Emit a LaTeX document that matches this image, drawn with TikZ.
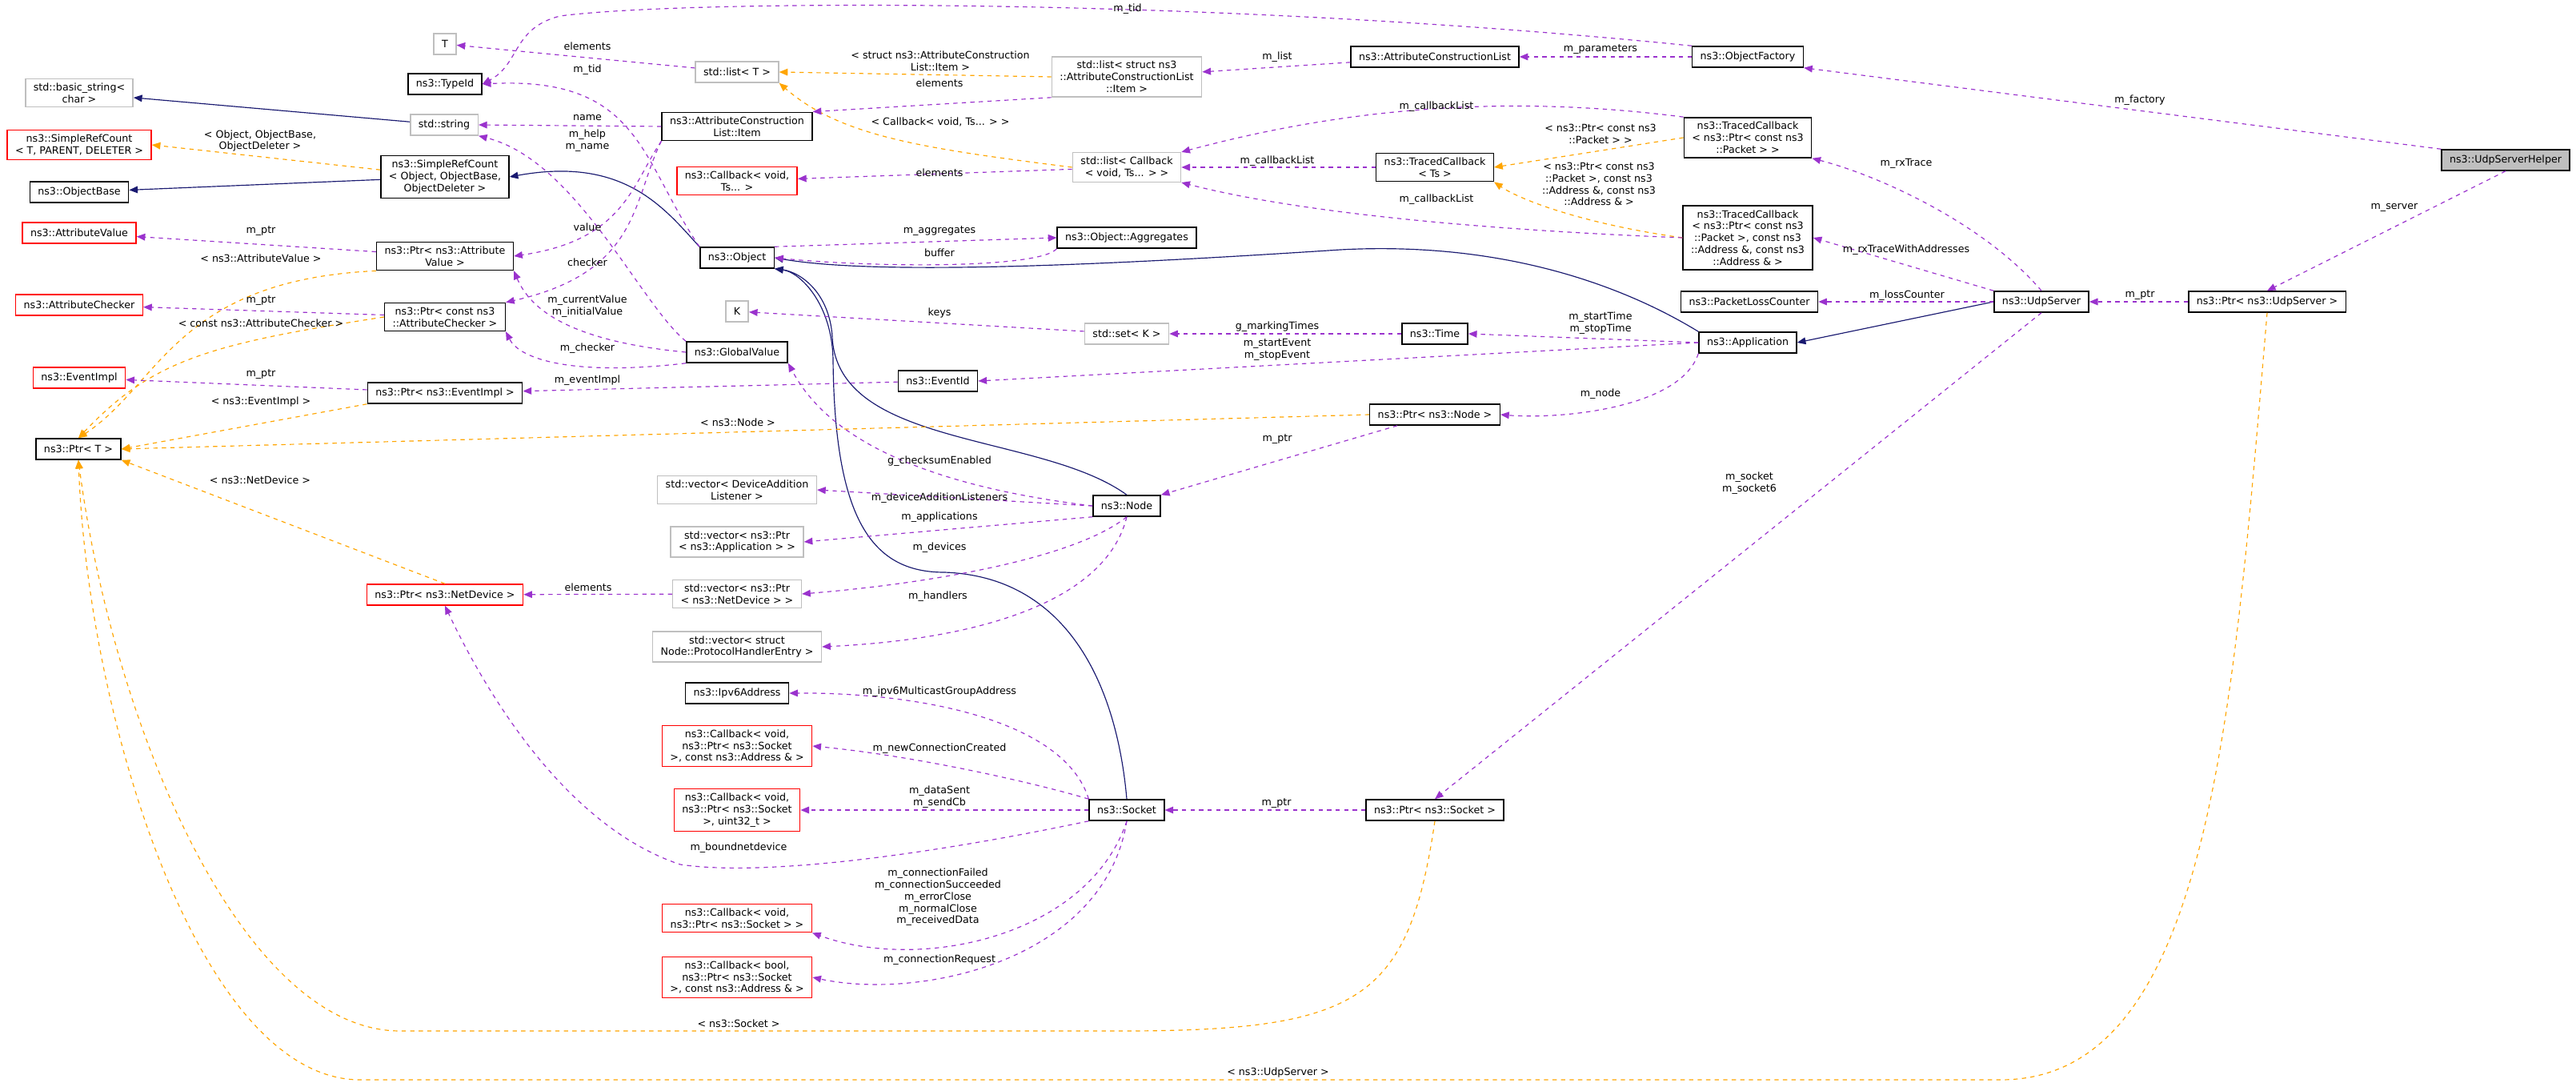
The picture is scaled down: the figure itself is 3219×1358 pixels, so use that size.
\documentclass[tikz,border=0pt]{standalone}
\usepackage{fontspec}
\setmainfont{DejaVu Sans}
\usepackage{tikz}
\usetikzlibrary{arrows.meta}
\definecolor{memcol}{HTML}{9A32CD}
\definecolor{tplcol}{HTML}{FFA500}
\definecolor{inhcol}{HTML}{191970}
\definecolor{extcol}{HTML}{BFBFBF}
\newcommand{\cls}[5]{\node[#1] (#2) at (#3,#4) {#5};}
\newcommand{\lbl}[4]{\node[lbltext] (#1) at (#2,#3) {#4};}
\tikzset{
  box/.style={draw=black, line width=0.45pt, fill=white, align=center, inner xsep=3pt, inner ysep=1.6pt, minimum height=7.8pt, font=\fontsize{3.8}{4.45}\selectfont},
  extbox/.style={box, draw=extcol},
  redbox/.style={box, draw=red},
  hlbox/.style={box, fill=extcol},
  lbltext/.style={align=center, inner sep=0pt, font=\fontsize{3.8}{4.45}\selectfont},
  mem/.style={draw=memcol, line width=0.35pt, dash pattern=on 1.6pt off 1.6pt, -{Triangle[length=3.2pt,width=2.6pt]}, color=memcol},
  tpl/.style={draw=tplcol, line width=0.35pt, dash pattern=on 1.6pt off 1.6pt, -{Triangle[length=3.2pt,width=2.6pt]}, color=tplcol},
  inh/.style={draw=inhcol, line width=0.35pt, -{Triangle[length=3.2pt,width=2.6pt]}, color=inhcol}
}
\begin{document}
\begin{tikzpicture}[x=0.3pt, y=-0.3pt]
        \useasboundingbox (0,0) rectangle (3219,1358);
        % column 1
        \cls{extbox}{bstr}{99}{116}{std::basic\_string\textless\\char \textgreater}
        \cls{redbox}{srct}{99}{181}{ns3::SimpleRefCount\\\textless{} T, PARENT, DELETER \textgreater}
        \cls{box}{obase}{99}{240}{ns3::ObjectBase}
        \cls{redbox}{aval}{99}{291}{ns3::AttributeValue}
        \cls{redbox}{achk}{99}{381}{ns3::AttributeChecker}
        \cls{redbox}{evimpl}{99}{472}{ns3::EventImpl}
        \cls{box}{ptrt}{98}{561}{ns3::Ptr\textless{} T \textgreater}
        % column 2
        \cls{extbox}{tt}{556}{55}{T}
        \cls{box}{tid}{556}{105}{ns3::TypeId}
        \cls{extbox}{str}{555}{156}{std::string}
        \cls{box}{srco}{556}{221}{ns3::SimpleRefCount\\\textless{} Object, ObjectBase,\\ObjectDeleter \textgreater}
        \cls{box}{pav}{556}{320}{ns3::Ptr\textless{} ns3::Attribute\\Value \textgreater}
        \cls{box}{pac}{556}{396}{ns3::Ptr\textless{} const ns3\\::AttributeChecker \textgreater}
        \cls{box}{pev}{556}{491}{ns3::Ptr\textless{} ns3::EventImpl \textgreater}
        \cls{redbox}{pnd}{556}{743}{ns3::Ptr\textless{} ns3::NetDevice \textgreater}
        % column 3
        \cls{extbox}{lt}{921}{90}{std::list\textless{} T \textgreater}
        \cls{box}{item}{921}{158}{ns3::AttributeConstruction\\List::Item}
        \cls{redbox}{cbv}{921}{226}{ns3::Callback\textless{} void,\\Ts... \textgreater}
        \cls{box}{obj}{921}{322}{ns3::Object}
        \cls{extbox}{kk}{921}{389}{K}
        \cls{box}{gv}{921}{440}{ns3::GlobalValue}
        \cls{extbox}{vdal}{921}{612}{std::vector\textless{} DeviceAddition\\Listener \textgreater}
        \cls{extbox}{vapp}{921}{677}{std::vector\textless{} ns3::Ptr\\\textless{} ns3::Application \textgreater{} \textgreater}
        \cls{extbox}{vnd}{921}{742}{std::vector\textless{} ns3::Ptr\\\textless{} ns3::NetDevice \textgreater{} \textgreater}
        \cls{extbox}{vphe}{921}{808}{std::vector\textless{} struct\\Node::ProtocolHandlerEntry \textgreater}
        \cls{box}{ipv6}{921}{866}{ns3::Ipv6Address}
        \cls{redbox}{cbnew}{921}{932}{ns3::Callback\textless{} void,\\ns3::Ptr\textless{} ns3::Socket\\\textgreater, const ns3::Address \& \textgreater}
        \cls{redbox}{cbsent}{921}{1012}{ns3::Callback\textless{} void,\\ns3::Ptr\textless{} ns3::Socket\\\textgreater, uint32\_t \textgreater}
        \cls{redbox}{cbsock}{921}{1147}{ns3::Callback\textless{} void,\\ns3::Ptr\textless{} ns3::Socket \textgreater{} \textgreater}
        \cls{redbox}{cbreq}{921}{1221}{ns3::Callback\textless{} bool,\\ns3::Ptr\textless{} ns3::Socket\\\textgreater, const ns3::Address \& \textgreater}
        \cls{box}{eid}{1172}{476}{ns3::EventId}
        % column 4
        \cls{extbox}{lsi}{1408}{96}{std::list\textless{} struct ns3\\::AttributeConstructionList\\::Item \textgreater}
        \cls{extbox}{lcb}{1408}{209}{std::list\textless{} Callback\\\textless{} void, Ts... \textgreater{} \textgreater}
        \cls{box}{aggr}{1408}{297}{ns3::Object::Aggregates}
        \cls{extbox}{setk}{1408}{417}{std::set\textless{} K \textgreater}
        \cls{box}{node}{1408}{632}{ns3::Node}
        \cls{box}{sock}{1408}{1012}{ns3::Socket}
        % column 5
        \cls{box}{acl}{1793}{71}{ns3::AttributeConstructionList}
        \cls{box}{tcts}{1793}{209}{ns3::TracedCallback\\\textless{} Ts \textgreater}
        \cls{box}{time}{1793}{417}{ns3::Time}
        \cls{box}{pnode}{1793}{518}{ns3::Ptr\textless{} ns3::Node \textgreater}
        \cls{box}{psock}{1793}{1012}{ns3::Ptr\textless{} ns3::Socket \textgreater}
        % column 6
        \cls{box}{ofac}{2184}{71}{ns3::ObjectFactory}
        \cls{box}{tcpk}{2184}{172}{ns3::TracedCallback\\\textless{} ns3::Ptr\textless{} const ns3\\::Packet \textgreater{} \textgreater}
        \cls{box}{tcad}{2184}{297}{ns3::TracedCallback\\\textless{} ns3::Ptr\textless{} const ns3\\::Packet \textgreater, const ns3\\::Address \&, const ns3\\::Address \& \textgreater}
        \cls{box}{plc}{2186}{377}{ns3::PacketLossCounter}
        \cls{box}{app}{2184}{428}{ns3::Application}
        \cls{box}{udps}{2551}{377}{ns3::UdpServer}
        \cls{box}{pudps}{2833}{377}{ns3::Ptr\textless{} ns3::UdpServer \textgreater}
        \cls{hlbox}{helper}{3131}{200}{ns3::UdpServerHelper}

        % inheritance
        \draw[inh] (str) -- (bstr);
        \draw[inh] (srco) -- (obase);
        \draw[inh] (obj.north west) .. controls (830,260) and (780,195) .. (srco.east);
        \draw[inh] (node.north) .. controls (1300,540) and (1045,560) .. (1040,420) .. controls (1036,365) and (1000,340) .. (obj.south east);
        \draw[inh] (sock.north) .. controls (1395,850) and (1330,720) .. (1180,715) .. controls (1090,715) and (1043,650) .. (1041,450) .. controls (1040,380) and (1000,340) .. (obj.south east);
        \draw[inh] (app.north west) .. controls (2050,370) and (1900,300) .. (1675,312) .. controls (1400,330) and (1100,345) .. (obj.east);
        \draw[inh] (udps.west) -- (app.east);

        % templates
        \draw[tpl] (srco) -- (srct.east);
        \draw[tpl] (pav.south west) .. controls (220,350) and (200,480) .. (ptrt.north);
        \draw[tpl] (pac.west) .. controls (260,430) and (190,450) .. (ptrt.north);
        \draw[tpl] (pev.south west) -- (ptrt.east);
        \draw[tpl] (pnode.west) -- (ptrt.east);
        \draw[tpl] (pnd.north) -- (ptrt.south east);
        \draw[tpl] (psock.south) .. controls (1760,1250) and (1700,1288) .. (1400,1288) -- (500,1288) .. controls (300,1288) and (140,900) .. (ptrt.south);
        \draw[tpl] (pudps.south) .. controls (2790,900) and (2760,1349) .. (2500,1349) -- (450,1349) .. controls (250,1349) and (110,900) .. (ptrt.south);
        \draw[tpl] (lsi.west) -- (lt.east);
        \draw[tpl] (lcb.west) .. controls (1150,185) and (1050,170) .. (lt.south east);
        \draw[tpl] (tcpk.west) -- (tcts.east);
        \draw[tpl] (tcad.west) .. controls (1980,280) and (1900,250) .. (tcts.south east);

        % members
        \draw[mem] (ofac.north west) .. controls (1500,-5) and (850,0) .. (700,20) .. controls (640,35) and (650,80) .. (tid.east);
        \draw[mem] (obj.north west) .. controls (800,200) and (800,95) .. (tid.east);
        \draw[mem] (ofac) -- (acl);
        \draw[mem] (acl) -- (lsi);
        \draw[mem] (lsi.south west) -- (item.north east);
        \draw[mem] (lt) -- (tt);
        \draw[mem] (item.west) -- (str.east);
        \draw[mem] (item.south west) .. controls (790,230) and (780,300) .. (pav.east);
        \draw[mem] (item.south west) .. controls (790,250) and (800,340) .. (pac.north east);
        \draw[mem] (gv.north west) .. controls (800,380) and (720,200) .. (str.south east);
        \draw[mem] (gv.west) .. controls (700,425) and (660,380) .. (pav.south east);
        \draw[mem] (gv.south west) .. controls (720,470) and (650,450) .. (pac.south east);
        \draw[mem] (pav) -- (aval);
        \draw[mem] (pac) -- (achk);
        \draw[mem] (pev) -- (evimpl);
        \draw[mem] (eid) -- (pev);
        \draw[mem] (lcb) -- (cbv);
        \draw[mem] (tcts) -- (lcb);
        \draw[mem] (tcpk.north west) .. controls (1900,120) and (1700,130) .. (lcb.north east);
        \draw[mem] (tcad.west) .. controls (1800,285) and (1600,260) .. (lcb.south east);
        \draw[mem] (obj.north east) -- (aggr.west);
        \draw[mem] (aggr.south west) .. controls (1300,335) and (1100,335) .. (obj.east);
        \draw[mem] (setk) -- (kk);
        \draw[mem] (time) -- (setk);
        \draw[mem] (app.west) -- (time.east);
        \draw[mem] (app.west) -- (eid.east);
        \draw[mem] (app.south west) .. controls (2100,510) and (1950,524) .. (pnode.east);
        \draw[mem] (pnode) -- (node.north east);
        \draw[mem] (node.west) .. controls (1100,600) and (1020,520) .. (gv.south east);
        \draw[mem] (node.west) -- (vdal.east);
        \draw[mem] (node.south west) -- (vapp.east);
        \draw[mem] (node.south) .. controls (1340,700) and (1150,730) .. (vnd.east);
        \draw[mem] (node.south) .. controls (1380,760) and (1200,800) .. (vphe.east);
        \draw[mem] (vnd) -- (pnd);
        \draw[mem] (sock.north west) .. controls (1330,900) and (1150,865) .. (ipv6.east);
        \draw[mem] (sock.north west) .. controls (1300,980) and (1150,945) .. (cbnew.east);
        \draw[mem] (sock) -- (cbsent);
        \draw[mem] (sock.south west) .. controls (1150,1070) and (950,1095) .. (850,1080) .. controls (700,1030) and (600,850) .. (pnd.south);
        \draw[mem] (sock.south) .. controls (1360,1170) and (1150,1215) .. (cbsock.south east);
        \draw[mem] (sock.south) .. controls (1380,1200) and (1150,1250) .. (cbreq.east);
        \draw[mem] (psock) -- (sock);
        \draw[mem] (udps.south) -- (psock.north);
        \draw[mem] (udps.north) .. controls (2480,280) and (2350,220) .. (tcpk.south east);
        \draw[mem] (udps.north west) -- (tcad.east);
        \draw[mem] (udps) -- (plc);
        \draw[mem] (pudps) -- (udps);
        \draw[mem] (helper.north west) -- (ofac.south east);
        \draw[mem] (helper.south) -- (pudps.north);

        % labels
        \lbl{l1}{1409}{11}{m\_tid}
        \lbl{l2}{734}{87}{m\_tid}
        \lbl{l3}{734}{58}{elements}
        \lbl{l4}{734}{147}{name}
        \lbl{l5}{734}{176}{m\_help\\m\_name}
        \lbl{l6}{325}{176}{\textless{} Object, ObjectBase,\\ObjectDeleter \textgreater}
        \lbl{l7}{326}{289}{m\_ptr}
        \lbl{l8}{326}{323}{\textless{} ns3::AttributeValue \textgreater}
        \lbl{l9}{734}{284}{value}
        \lbl{l10}{734}{328}{checker}
        \lbl{l11}{326}{376}{m\_ptr}
        \lbl{l12}{326}{404}{\textless{} const ns3::AttributeChecker \textgreater}
        \lbl{l13}{734}{383}{m\_currentValue\\m\_initialValue}
        \lbl{l14}{734}{435}{m\_checker}
        \lbl{l15}{326}{468}{m\_ptr}
        \lbl{l16}{734}{475}{m\_eventImpl}
        \lbl{l17}{326}{502}{\textless{} ns3::EventImpl \textgreater}
        \lbl{l18}{922}{528}{\textless{} ns3::Node \textgreater}
        \lbl{l19}{325}{600}{\textless{} ns3::NetDevice \textgreater}
        \lbl{l20}{1175}{76}{\textless{} struct ns3::AttributeConstruction\\List::Item \textgreater}
        \lbl{l21}{1174}{104}{elements}
        \lbl{l22}{1596}{71}{m\_list}
        \lbl{l23}{2000}{62}{m\_parameters}
        \lbl{l24}{1175}{152}{\textless{} Callback\textless{} void, Ts... \textgreater{} \textgreater}
        \lbl{l25}{1174}{216}{elements}
        \lbl{l26}{1795}{133}{m\_callbackList}
        \lbl{l27}{1596}{201}{m\_callbackList}
        \lbl{l28}{2000}{167}{\textless{} ns3::Ptr\textless{} const ns3\\::Packet \textgreater{} \textgreater}
        \lbl{l29}{1998}{230}{\textless{} ns3::Ptr\textless{} const ns3\\::Packet \textgreater, const ns3\\::Address \&, const ns3\\::Address \& \textgreater}
        \lbl{l30}{1795}{249}{m\_callbackList}
        \lbl{l31}{1174}{289}{m\_aggregates}
        \lbl{l32}{1174}{316}{buffer}
        \lbl{l33}{1174}{391}{keys}
        \lbl{l34}{1596}{408}{g\_markingTimes}
        \lbl{l35}{2000}{404}{m\_startTime\\m\_stopTime}
        \lbl{l36}{1596}{437}{m\_startEvent\\m\_stopEvent}
        \lbl{l37}{2000}{492}{m\_node}
        \lbl{l38}{1596}{549}{m\_ptr}
        \lbl{l39}{1174}{576}{g\_checksumEnabled}
        \lbl{l40}{1174}{622}{m\_deviceAdditionListeners}
        \lbl{l41}{1174}{646}{m\_applications}
        \lbl{l42}{1174}{684}{m\_devices}
        \lbl{l43}{2674}{125}{m\_factory}
        \lbl{l44}{2382}{204}{m\_rxTrace}
        \lbl{l45}{2992}{259}{m\_server}
        \lbl{l46}{2382}{312}{m\_rxTraceWithAddresses}
        \lbl{l47}{2383}{369}{m\_lossCounter}
        \lbl{l48}{2674}{369}{m\_ptr}
        \lbl{l49}{2186}{604}{m\_socket\\m\_socket6}
        \lbl{l50}{735}{734}{elements}
        \lbl{l51}{1172}{745}{m\_handlers}
        \lbl{l52}{1174}{864}{m\_ipv6MulticastGroupAddress}
        \lbl{l53}{1174}{935}{m\_newConnectionCreated}
        \lbl{l54}{1174}{996}{m\_dataSent\\m\_sendCb}
        \lbl{l55}{923}{1059}{m\_boundnetdevice}
        \lbl{l56}{1172}{1121}{m\_connectionFailed\\m\_connectionSucceeded\\m\_errorClose\\m\_normalClose\\m\_receivedData}
        \lbl{l57}{1174}{1199}{m\_connectionRequest}
        \lbl{l58}{923}{1279}{\textless{} ns3::Socket \textgreater}
        \lbl{l59}{1595}{1004}{m\_ptr}
        \lbl{l60}{1597}{1340}{\textless{} ns3::UdpServer \textgreater}
    \end{tikzpicture}
\end{document}
